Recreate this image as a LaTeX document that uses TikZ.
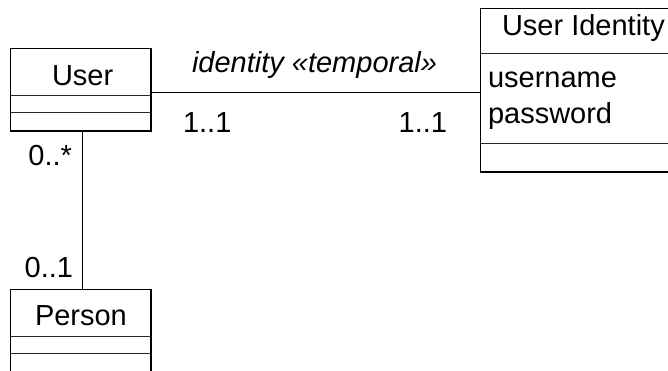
\documentclass[tikz,border=0pt]{standalone}
\usepackage{fontspec}
\setmainfont{Liberation Sans}
\usetikzlibrary{calc}
\begin{document}
\begin{tikzpicture}[x=1pt,y=-1pt,
  classbox/.style={draw=black, line width=0.9pt, inner sep=0pt, outer sep=0pt, anchor=north west},
  shadowedge/.style={draw=black, line width=2pt},
  sep/.style={draw=black!85, line width=0.9pt},
  assoc/.style={draw=black, line width=0.9pt},
  lbl/.style={font=\fontsize{29}{32}\selectfont, inner sep=0pt, outer sep=0pt}]
\useasboundingbox (0,0) rectangle (668,370);
\clip (0,0) rectangle (668,370);
\fill[white] (0,0) rectangle (668,370);

% class boxes
\node[classbox, minimum width=141pt, minimum height=83pt] (user) at (10,48) {};
\node[classbox, minimum width=141pt, minimum height=110pt] (person) at (10,289) {};
\node[classbox, minimum width=220pt, minimum height=164pt] (ident) at (480,8) {};

% heavier right and bottom edges
\draw[shadowedge] (user.north east) -- (user.south east) -- (user.south west);
\draw[shadowedge] (person.north east) -- (person.south east);
\draw[shadowedge] (ident.south west) -- (ident.south east);

% compartment separators
\draw[sep] ($(user.north west)+(0,47)$) -- ($(user.north east)+(0,47)$);
\draw[sep] ($(user.north west)+(0,64)$) -- ($(user.north east)+(0,64)$);
\draw[sep] ($(person.north west)+(0,47)$) -- ($(person.north east)+(0,47)$);
\draw[sep] ($(person.north west)+(0,64)$) -- ($(person.north east)+(0,64)$);
\draw[sep] ($(ident.north west)+(0,45)$) -- ($(ident.north east)+(0,45)$);
\draw[sep] ($(ident.north west)+(0,135)$) -- ($(ident.north east)+(0,135)$);

% class names and attributes
\node[lbl, anchor=base west] (usertitle) at (52,85) {User};
\node[lbl, anchor=base west] (persontitle) at (35,325) {Person};
\node[lbl, anchor=base west] (identtitle) at (502,35) {User Identity};
\node[lbl, anchor=base west] (attr1) at (488,87) {username};
\node[lbl, anchor=base west] (attr2) at (488,123) {password};

% associations
\coordinate (assocy) at (0,92);
\coordinate (linkx) at (82,0);
\draw[assoc] (user.east |- assocy) -- (ident.west |- assocy);
\draw[assoc] (user.south -| linkx) -- (person.north -| linkx);

% association labels
\node[lbl, anchor=base west, font=\fontsize{29}{32}\selectfont\itshape] (assocname) at (192,72) {identity «temporal»};
\node[lbl, anchor=base west] (m1) at (183,132) {1..1};
\node[lbl, anchor=base east] (m2) at (447,132) {1..1};
\node[lbl, anchor=base east] (m3) at (72,165) {0..*};
\node[lbl, anchor=base east] (m4) at (73,277) {0..1};
\end{tikzpicture}
\end{document}
